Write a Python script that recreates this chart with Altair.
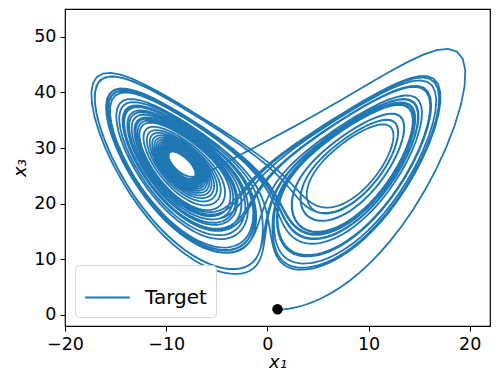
import altair as alt
import numpy as np
import pandas as pd

# Lorenz system: start point (black dot) and standard parameters
start_state = [1.0, 1.0, 1.0]
sigma_rho_beta = [10.0, 28.0, 8.0 / 3.0]
time_span = [0.0, 40.0]
time_step = [0.01]
series_name = ["Target"]
x_ticks = [-20, -10, 0, 10, 20]
y_ticks = [0, 10, 20, 30, 40, 50]


def rhs(s):
    sg, rh, bt = sigma_rho_beta
    x, y, z = s
    return np.array([sg * (y - x), x * (rh - z) - y, x * y - bt * z])


dt = time_step[0]
n = int(round((time_span[1] - time_span[0]) / dt))
traj = np.zeros((n + 1, 3))
traj[0] = start_state
for i in range(n):
    s = traj[i]
    k1 = rhs(s)
    k2 = rhs(s + dt / 2 * k1)
    k3 = rhs(s + dt / 2 * k2)
    k4 = rhs(s + dt * k3)
    traj[i + 1] = s + dt / 6 * (k1 + 2 * k2 + 2 * k3 + k4)

df = pd.DataFrame({"x1": traj[:, 0], "x3": traj[:, 2], "i": np.arange(n + 1), "s": series_name[0]})
start_df = pd.DataFrame({"x1": [start_state[0]], "x3": [start_state[2]]})

font = "DejaVu Sans"
xscale = alt.Scale(domain=[-20, 22], nice=False, zero=False)
yscale = alt.Scale(domain=[-2, 55], nice=False, zero=False)

line = alt.Chart(df).mark_line(strokeWidth=1.8, clip=True).encode(
    x=alt.X("x1:Q", scale=xscale, axis=alt.Axis(values=x_ticks, title="x₁")),
    y=alt.Y("x3:Q", scale=yscale, axis=alt.Axis(values=y_ticks, title="x₃")),
    order="i:Q",
    color=alt.Color("s:N", scale=alt.Scale(range=["#1f77b4"]),
                    legend=alt.Legend(title=None, orient="none", legendX=10, legendY=256,
                                      symbolType="stroke", symbolSize=2000, symbolStrokeWidth=2,
                                      labelFontSize=20, labelFont=font, labelColor="black",
                                      padding=9, strokeColor="#d6d6d6", fillColor="white",
                                      cornerRadius=4, labelOffset=14)),
)

dot = alt.Chart(start_df).mark_circle(color="black", opacity=1, size=110).encode(
    x=alt.X("x1:Q", scale=xscale), y=alt.Y("x3:Q", scale=yscale)
)

chart = (line + dot).properties(
    width=425, height=317,
    autosize=alt.AutoSizeParams(type="none"),
    padding={"left": 57, "top": 1, "right": 1, "bottom": 60},
).configure_view(stroke="black", strokeWidth=1.2).configure_axis(
    grid=False, domain=False, tickColor="black", tickSize=5, tickWidth=1,
    labelFont=font, labelFontSize=17.5, labelColor="black", labelPadding=4,
    labelFlush=False,
    titleFont=font, titleFontSize=18, titleColor="black", titleFontWeight="normal",
    titleFontStyle="italic",
).configure_axisX(titlePadding=1).configure_axisY(titlePadding=4)

chart.save("out.html", embed_options={"renderer": "svg", "actions": False})
